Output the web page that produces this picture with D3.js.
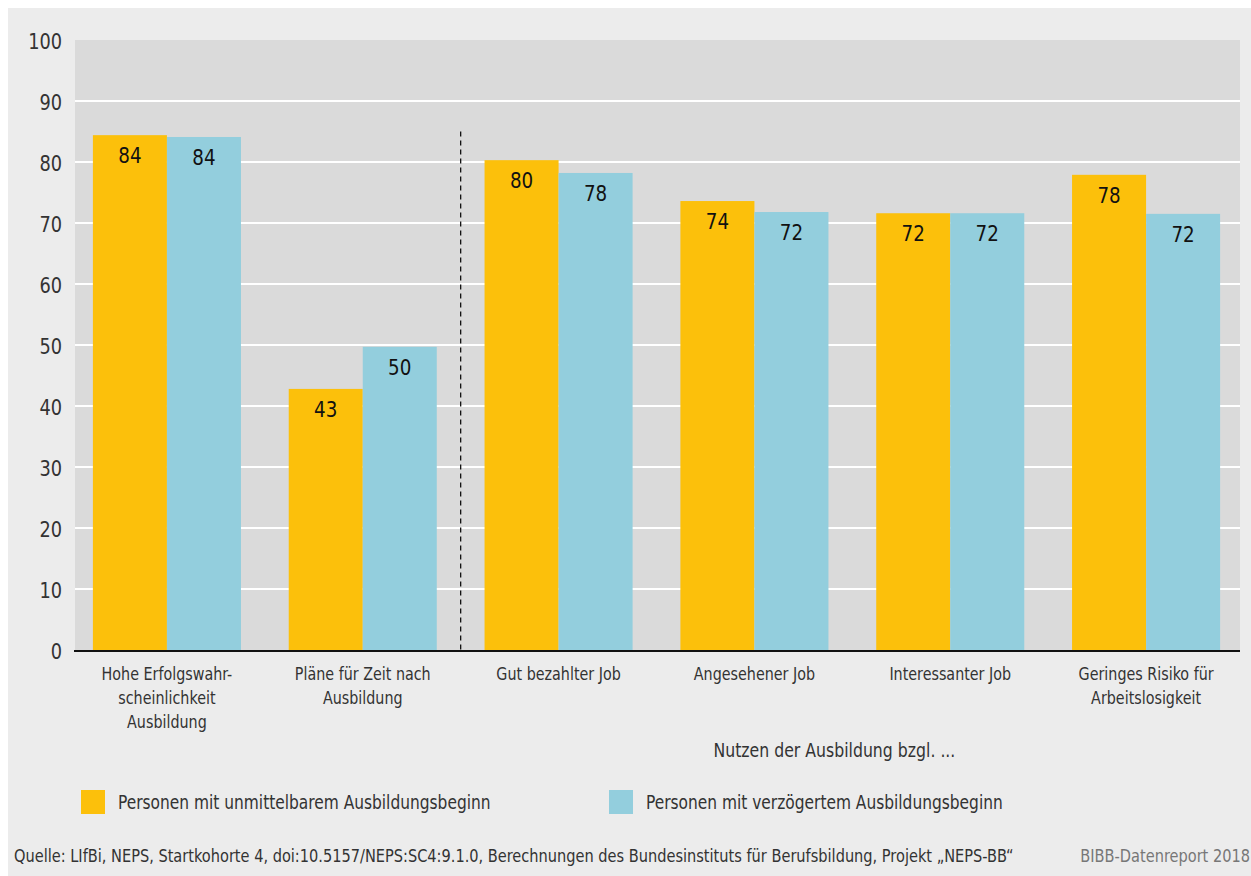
<!DOCTYPE html>
<html><head><meta charset="utf-8">
<script src="https://cdn.jsdelivr.net/npm/d3@7"></script>
<style>
body{margin:0;background:#fff;}
svg{display:block;font-family:"DejaVu Sans Condensed","DejaVu Sans",sans-serif;}
</style></head>
<body>
<svg id="chart" width="1251" height="876"></svg>
<script>
const categories = [
  ["Hohe Erfolgswahr-","scheinlichkeit","Ausbildung"],
  ["Pläne für Zeit nach","Ausbildung"],
  ["Gut bezahlter Job"],
  ["Angesehener Job"],
  ["Interessanter Job"],
  ["Geringes Risiko für","Arbeitslosigkeit"]
];
const seriesNames = ["Personen mit unmittelbarem Ausbildungsbeginn","Personen mit verzögertem Ausbildungsbeginn"];
const sofort = [84.4, 42.8, 80.3, 73.6, 71.6, 77.9];
const verzoegert = [84.1, 49.7, 78.2, 71.8, 71.6, 71.5];
const labelsSofort = ["84","43","80","74","72","78"];
const labelsVerz = ["84","50","78","72","72","72"];
const yTicks = [0,10,20,30,40,50,60,70,80,90,100];
const groupTitle = "Nutzen der Ausbildung bzgl. ...";
const source = "Quelle: LIfBi, NEPS, Startkohorte 4, doi:10.5157/NEPS:SC4:9.1.0, Berechnungen des Bundesinstituts für Berufsbildung, Projekt „NEPS-BB“";
const credit = "BIBB-Datenreport 2018";

const colors = ["#fcc00b","#93cedd"];
const svg = d3.select("#chart");

// narrow text helper (reference uses a condensed face)
function ntext(parent, x, y, str, size, sx, anchor, fill){
  const g = parent.append("g").attr("transform",`translate(${x},${y}) scale(${sx},1)`);
  return g.append("text").attr("x",0).attr("y",0).attr("text-anchor",anchor||"start")
    .attr("font-size",size).attr("fill",fill||"#333").text(str);
}

svg.append("rect").attr("x",8).attr("y",8).attr("width",1243).attr("height",868).attr("fill","#ececec");

const plot = {left:75, right:1240, top:40, bottom:650};
svg.append("rect").attr("x",plot.left).attr("y",plot.top).attr("width",plot.right-plot.left).attr("height",plot.bottom-plot.top).attr("fill","#dadada");

const y = d3.scaleLinear().domain([0,100]).range([plot.bottom, plot.top]);
const x = d3.scaleBand().domain(d3.range(categories.length)).range([69,1244]).paddingInner(0.244).paddingOuter(0.122);
const xs = d3.scaleBand().domain([0,1]).range([0,x.bandwidth()]);

// gridlines
svg.append("g").selectAll("line").data(yTicks.filter(d=>d>0 && d<100)).join("line")
  .attr("x1",plot.left).attr("x2",plot.right)
  .attr("y1",d=>y(d)).attr("y2",d=>y(d))
  .attr("stroke","#fff").attr("stroke-width",2);

// y tick labels
const yt = svg.append("g");
yTicks.forEach(d=>{
  ntext(yt, 62, y(d)+9, d, 21, 0.94, "end", "#333");
});

// bars
const data = [sofort, verzoegert];
const labels = [labelsSofort, labelsVerz];
data.forEach((arr,si)=>{
  const g = svg.append("g");
  g.selectAll("rect").data(arr).join("rect")
    .attr("x",(d,i)=>x(i)+xs(si)).attr("width",xs.bandwidth())
    .attr("y",d=>y(d)).attr("height",d=>y(0)-y(d))
    .attr("fill",colors[si]);
  arr.forEach((d,i)=>{
    ntext(g, x(i)+xs(si)+xs.bandwidth()/2, y(d)+28, labels[si][i], 21, 0.97, "middle", "#111");
  });
});

// dashed separator
const sepX = (x(1)+x.bandwidth()+x(2))/2;
svg.append("line").attr("x1",sepX).attr("x2",sepX).attr("y1",y(85)).attr("y2",plot.bottom)
  .attr("stroke","#111").attr("stroke-width",1.3).attr("stroke-dasharray","5,4");

// axis line
svg.append("line").attr("x1",plot.left-1).attr("x2",plot.right).attr("y1",plot.bottom+1).attr("y2",plot.bottom+1)
  .attr("stroke","#111").attr("stroke-width",2);

// category labels
const cat = svg.append("g");
categories.forEach((lines,i)=>{
  lines.forEach((l,j)=>ntext(cat, x(i)+x.bandwidth()/2, 680 + j*24, l, 18.5, 0.86, "middle", "#333"));
});
ntext(svg, (sepX + x(5)+x.bandwidth())/2 - 6, 757, groupTitle, 19, 0.92, "middle", "#333");

// legend
const legX = [81, 609];
seriesNames.forEach((n,i)=>{
  svg.append("rect").attr("x",legX[i]).attr("y",790).attr("width",24).attr("height",24).attr("fill",colors[i]);
  ntext(svg, legX[i]+37, 809, n, 19.5, 0.88, "start", "#333");
});

// footer
ntext(svg, 14, 862, source, 18, 0.9, "start", "#333");
ntext(svg, 1250, 862, credit, 18, 0.9, "end", "#777");
</script>
</body></html>
